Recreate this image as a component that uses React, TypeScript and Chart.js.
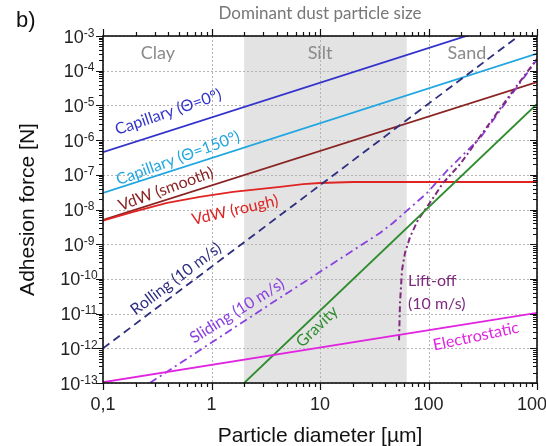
import React, { useEffect, useRef } from "react";
import { Chart, registerables } from "chart.js";

Chart.register(...registerables);

// ---------- data (particle diameter in µm, force in N) ----------
const capillary0D = [0.1, 1000];
const capillary0F = [4.5e-7, 4.5e-3];

const capillary150D = [0.1, 1000];
const capillary150F = [3.0e-8, 3.1e-4];

const vdwSmoothD = [0.1, 1000];
const vdwSmoothF = [5.0e-9, 4.7e-5];

const vdwRoughD = [0.1, 0.19, 0.39, 0.78, 1.58, 4.3, 7, 10, 20, 1000];
const vdwRoughF = [4.8e-9, 8.5e-9, 1.55e-8, 2.3e-8, 3.2e-8, 4.5e-8, 5.4e-8, 5.8e-8, 6.2e-8, 6.2e-8];

const rollingD = [0.1, 1000];
const rollingF = [1.0e-12, 2.5e-3];

const slidingD = [0.27, 4, 35.7, 47, 97, 151, 299, 1000];
const slidingF = [1e-13, 2.5e-11, 2.1e-9, 4.1e-9, 3.0e-8, 1.4e-7, 1.15e-6, 2.1e-4];

const liftOffD = [53.5, 54.6, 57, 60.7, 67.5, 80, 96.8, 115, 136, 195, 564, 1000];
const liftOffF = [1.7e-12, 2.0e-11, 1.8e-10, 5.6e-10, 1.6e-9, 5.0e-9, 1.18e-8, 2.6e-8, 5.8e-8, 2.0e-7, 2.0e-5, 2.2e-4];

const gravityD = [2, 1000];
const gravityF = [1e-13, 1.1e-5];

const electroD = [0.1, 1000];
const electroF = [1.05e-13, 1.05e-11];

const siltRange = [2, 63];

const xTickValues = [0.1, 1, 10, 100, 1000];
const xTickLabels = ["0,1", "1", "10", "100", "1000"];
const yExponents = [-3, -4, -5, -6, -7, -8, -9, -10, -11, -12, -13];

const sizeClasses = ["Clay", "Silt", "Sand"];
const sizeClassD = [0.32, 10, 226];

// ---------- colours ----------
const C_CAP0 = "#3232cc";
const C_CAP150 = "#20a6e0";
const C_VDWS = "#8a2323";
const C_VDWR = "#e02424";
const C_ROLL = "#2e2e80";
const C_SLIDE = "#8a40e0";
const C_LIFT = "#7e2a7e";
const C_GRAV = "#2e8c2e";
const C_ELEC = "#e024e0";

const annotations = [
  { text: "Capillary (\u0398=0\u00b0)", d: 0.4, f: 6.4e-6, angle: -19, color: C_CAP0 },
  { text: "Capillary (\u0398=150\u00b0)", d: 0.49, f: 3.0e-7, angle: -20, color: C_CAP150 },
  { text: "VdW (smooth)", d: 0.38, f: 3.9e-8, angle: -20, color: C_VDWS },
  { text: "VdW (rough)", d: 1.65, f: 9.6e-9, angle: -13, color: C_VDWR },
  { text: "Rolling (10 m/s)", d: 0.47, f: 1.0e-10, angle: -37, color: C_ROLL },
  { text: "Sliding (10 m/s)", d: 1.72, f: 1.2e-11, angle: -32, color: C_SLIDE },
  { text: "Gravity", d: 9.4, f: 4.2e-12, angle: -44, color: C_GRAV },
  { text: "Electrostatic", d: 274, f: 2.2e-12, angle: -12, color: C_ELEC },
];
const liftLabel = { lines: ["Lift-off", "(10 m/s)"], d: 64.7, f: [8.7e-11, 1.9e-11], color: C_LIFT };

const pts = (d: number[], f: number[]) => d.map((v, i) => ({ x: v, y: f[i] }));

const LABEL_FONT = "Lato, 'Open Sans', sans-serif";
const AXIS_FONT = "'Liberation Sans', Arial, sans-serif";

const decorPlugin = {
  id: "decor",
  beforeDraw(chart: any) {
    const { ctx, chartArea: a, scales } = chart;
    const xs = scales.x;
    const ys = scales.y;
    const x0 = xs.getPixelForValue(siltRange[0]);
    const x1 = xs.getPixelForValue(siltRange[1]);
    ctx.save();
    ctx.fillStyle = "#e3e3e3";
    ctx.fillRect(x0, a.top, x1 - x0, a.bottom - a.top);
    // dotted major grid
    ctx.strokeStyle = "#b4b4b4";
    ctx.lineWidth = 1;
    ctx.setLineDash([2, 2]);
    ctx.beginPath();
    xTickValues.forEach((v) => {
      const px = Math.round(xs.getPixelForValue(v)) + 0.5;
      ctx.moveTo(px, a.top);
      ctx.lineTo(px, a.bottom);
    });
    yExponents.forEach((e) => {
      const py = Math.round(ys.getPixelForValue(Math.pow(10, e))) + 0.5;
      ctx.moveTo(a.left, py);
      ctx.lineTo(a.right, py);
    });
    ctx.stroke();
    ctx.restore();
  },
  afterDraw(chart: any) {
    const { ctx, chartArea: a, scales } = chart;
    const xs = scales.x;
    const ys = scales.y;
    ctx.save();

    // frame
    ctx.strokeStyle = "#111";
    ctx.lineWidth = 1.6;
    ctx.strokeRect(a.left, a.top, a.right - a.left, a.bottom - a.top);

    // ticks
    ctx.lineWidth = 1.2;
    const MAJ = 7;
    const MIN = 4;
    ctx.beginPath();
    for (let e = -1; e <= 3; e++) {
      for (let k = 1; k <= 9; k++) {
        const v = k * Math.pow(10, e);
        if (v > 1000 * 1.0001) continue;
        const px = Math.round(xs.getPixelForValue(v)) + 0.5;
        const len = k === 1 ? MAJ : MIN;
        ctx.moveTo(px, a.bottom);
        ctx.lineTo(px, a.bottom + len);
        ctx.moveTo(px, a.top);
        ctx.lineTo(px, a.top - len);
      }
    }
    for (let e = -13; e <= -3; e++) {
      for (let k = 1; k <= 9; k++) {
        const v = k * Math.pow(10, e);
        if (v > 1e-3 * 1.0001) continue;
        const py = Math.round(ys.getPixelForValue(v)) + 0.5;
        const len = k === 1 ? MAJ : MIN;
        ctx.moveTo(a.left, py);
        ctx.lineTo(a.left - len, py);
        ctx.moveTo(a.right, py);
        ctx.lineTo(a.right - len, py);
      }
    }
    ctx.stroke();

    // x tick labels
    ctx.fillStyle = "#222";
    ctx.font = `18px ${AXIS_FONT}`;
    ctx.textAlign = "center";
    ctx.textBaseline = "alphabetic";
    xTickValues.forEach((v, i) => {
      ctx.fillText(xTickLabels[i], xs.getPixelForValue(v), a.bottom + 27);
    });

    // y tick labels (10 with superscript exponent)
    const cx = a.left - 24;
    yExponents.forEach((e) => {
      const py = ys.getPixelForValue(Math.pow(10, e));
      ctx.font = `18px ${AXIS_FONT}`;
      const wb = ctx.measureText("10").width;
      ctx.font = `12px ${AXIS_FONT}`;
      const es = String(e);
      const we = ctx.measureText(es).width;
      const left = cx - (wb + we) / 2;
      ctx.textAlign = "left";
      ctx.font = `18px ${AXIS_FONT}`;
      ctx.fillText("10", left, py + 6.5);
      ctx.font = `12px ${AXIS_FONT}`;
      ctx.fillText(es, left + wb, py + 0.5);
    });

    // axis titles
    ctx.fillStyle = "#111";
    ctx.font = `21px ${AXIS_FONT}`;
    ctx.textAlign = "center";
    ctx.textBaseline = "middle";
    ctx.fillText("Particle diameter [\u00b5m]", (a.left + a.right) / 2, a.bottom + 53);
    ctx.save();
    ctx.translate(a.left - 75, (a.top + a.bottom) / 2);
    ctx.rotate(-Math.PI / 2);
    ctx.fillText("Adhesion force [N]", 0, 0);
    ctx.restore();

    // panel letter and header
    ctx.textAlign = "left";
    ctx.font = `22px ${AXIS_FONT}`;
    ctx.fillText("b)", 16, 21);
    ctx.textAlign = "center";
    ctx.fillStyle = "#777";
    ctx.font = `17px ${LABEL_FONT}`;
    ctx.fillText("Dominant dust particle size", (a.left + a.right) / 2, 14);

    // size classes
    ctx.fillStyle = "#8a8a8a";
    ctx.font = `18px ${LABEL_FONT}`;
    sizeClasses.forEach((s, i) => {
      ctx.fillText(s, xs.getPixelForValue(sizeClassD[i]), a.top + 17);
    });

    // line annotations
    ctx.font = `16px ${LABEL_FONT}`;
    annotations.forEach((an) => {
      ctx.save();
      ctx.translate(xs.getPixelForValue(an.d), ys.getPixelForValue(an.f));
      ctx.rotate((an.angle * Math.PI) / 180);
      ctx.fillStyle = an.color;
      ctx.textAlign = "center";
      ctx.textBaseline = "middle";
      ctx.fillText(an.text, 0, 0);
      ctx.restore();
    });
    ctx.fillStyle = liftLabel.color;
    ctx.textAlign = "left";
    liftLabel.lines.forEach((t, i) => {
      ctx.fillText(t, xs.getPixelForValue(liftLabel.d), ys.getPixelForValue(liftLabel.f[i]));
    });

    ctx.restore();
  },
};

const line = (label: string, d: number[], f: number[], color: string, dash: number[] = [], width = 1.8) => ({
  label,
  data: pts(d, f),
  borderColor: color,
  backgroundColor: color,
  borderWidth: width,
  borderDash: dash,
  pointRadius: 0,
  fill: false,
  tension: 0,
  clip: 0,
});

export default function App() {
  const ref = useRef<HTMLCanvasElement | null>(null);

  useEffect(() => {
    if (!ref.current) return;
    const axisCommon = {
      type: "logarithmic" as const,
      ticks: { display: false, autoSkip: false },
      grid: { display: false, drawTicks: false },
      border: { display: false },
    };
    const chart = new Chart(ref.current, {
      type: "line",
      data: {
        datasets: [
          line("Electrostatic", electroD, electroF, C_ELEC),
          line("Gravity", gravityD, gravityF, C_GRAV),
          line("Lift-off (10 m/s)", liftOffD, liftOffF, C_LIFT, [6, 3, 2, 3], 2),
          line("Sliding (10 m/s)", slidingD, slidingF, C_SLIDE, [8, 4, 2, 4]),
          line("Rolling (10 m/s)", rollingD, rollingF, C_ROLL, [8, 5]),
          line("VdW (rough)", vdwRoughD, vdwRoughF, C_VDWR),
          line("VdW (smooth)", vdwSmoothD, vdwSmoothF, C_VDWS),
          line("Capillary (\u0398=150\u00b0)", capillary150D, capillary150F, C_CAP150),
          line("Capillary (\u0398=0\u00b0)", capillary0D, capillary0F, C_CAP0),
        ],
      },
      options: {
        responsive: false,
        animation: false,
        devicePixelRatio: 1,
        layout: { padding: { left: 103, top: 36, right: 9, bottom: 63 } },
        plugins: { legend: { display: false }, tooltip: { enabled: false } },
        scales: {
          x: { ...axisCommon, min: 0.1, max: 1000 },
          y: { ...axisCommon, min: 1e-13, max: 1e-3 },
        },
      } as any,
      plugins: [decorPlugin],
    });
    return () => chart.destroy();
  }, []);

  return (
    <div style={{ position: "fixed", left: 0, top: 0, width: 546, height: 446, background: "#fff" }}>
      <canvas ref={ref} width={546} height={446} style={{ display: "block" }} />
    </div>
  );
}
